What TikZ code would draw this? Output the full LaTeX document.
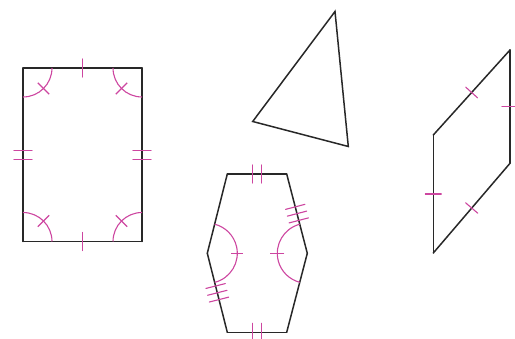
\documentclass[tikz,border=0pt]{standalone}
\usetikzlibrary{decorations.markings,calc}
\definecolor{edge}{RGB}{40,40,40}
\definecolor{mk}{RGB}{205,70,160}
\tikzset{
  side/.style={draw=edge, line width=1.5pt, line cap=round},
  tk/.style={draw=mk, line width=1.1pt},
  tickone/.style={postaction={decorate,decoration={markings,mark=at position 0.5 with {\draw[tk] (0pt,-#1) -- (0pt,#1);}}}},
  tickone/.default=8pt,
  ticktwo/.style={postaction={decorate,decoration={markings,mark=at position 0.5 with {\draw[tk] (-#1,-9pt) -- (-#1,9pt); \draw[tk] (#1,-9pt) -- (#1,9pt);}}}},
  tickthree/.style={postaction={decorate,decoration={markings,mark=at position 0.5 with {\draw[tk] (-#1,-10pt) -- (-#1,10pt); \draw[tk] (0pt,-10pt) -- (0pt,10pt); \draw[tk] (#1,-10pt) -- (#1,10pt);}}}}
}
\newcommand\angmark[5]{%
  \draw[tk] ($(#1)+(#2:#4)$) arc[start angle=#2,end angle=#3,radius=#4];
  \draw[tk] ($(#1)+({(#2+#3)/2}:{#4-#5})$) -- ($(#1)+({(#2+#3)/2}:{#4+#5})$);}
\begin{document}
\begin{tikzpicture}[x=1pt,y=1pt]
\useasboundingbox (0,0) rectangle (515,339);
% rectangle
\coordinate (rA) at (23,97.5);
\coordinate (rB) at (142,97.5);
\coordinate (rC) at (142,271);
\coordinate (rD) at (23,271);
\draw[side,tickone=9pt] (rA) -- (rB);
\draw[side,ticktwo=4.5pt] (rB) -- (rC);
\draw[side,tickone=9pt] (rC) -- (rD);
\draw[side,ticktwo=4.5pt] (rD) -- (rA);
\angmark{rA}{0}{90}{29}{8}
\angmark{rB}{90}{180}{29}{8}
\angmark{rC}{180}{270}{29}{8}
\angmark{rD}{270}{360}{29}{8}
% triangle
\coordinate (t1) at (335,327.5);
\coordinate (t2) at (252.7,217.5);
\coordinate (t3) at (348.3,192.5);
\draw[side,line join=miter] (t1) -- (t2) -- (t3) -- cycle;
% hexagon
\coordinate (hTL) at (227.3,165);
\coordinate (hTR) at (286.7,165);
\coordinate (hR) at (307.3,85.7);
\coordinate (hBR) at (286.7,6.7);
\coordinate (hBL) at (227.3,6.7);
\coordinate (hL) at (207.3,85.7);
\draw[side,ticktwo=4.5pt] (hTL) -- (hTR);
\draw[side,tickthree=7pt] (hTR) -- (hR);
\draw[side] (hR) -- (hBR);
\draw[side,ticktwo=4.5pt] (hBR) -- (hBL);
\draw[side,tickthree=7pt] (hBL) -- (hL);
\draw[side] (hL) -- (hTL);
\angmark{hL}{-75.8}{75.8}{30}{6}
\angmark{hR}{104.6}{255.4}{30}{7}
% parallelogram
\coordinate (p1) at (510,289);
\coordinate (p2) at (510,175.7);
\coordinate (p3) at (433.3,204);
\coordinate (p4) at (433.3,86);
\draw[side,tickone] (p3) -- (p1);
\draw[side,tickone] (p1) -- (p2);
\draw[side,tickone] (p2) -- (p4);
\draw[side,tickone] (p4) -- (p3);
\end{tikzpicture}
\end{document}
